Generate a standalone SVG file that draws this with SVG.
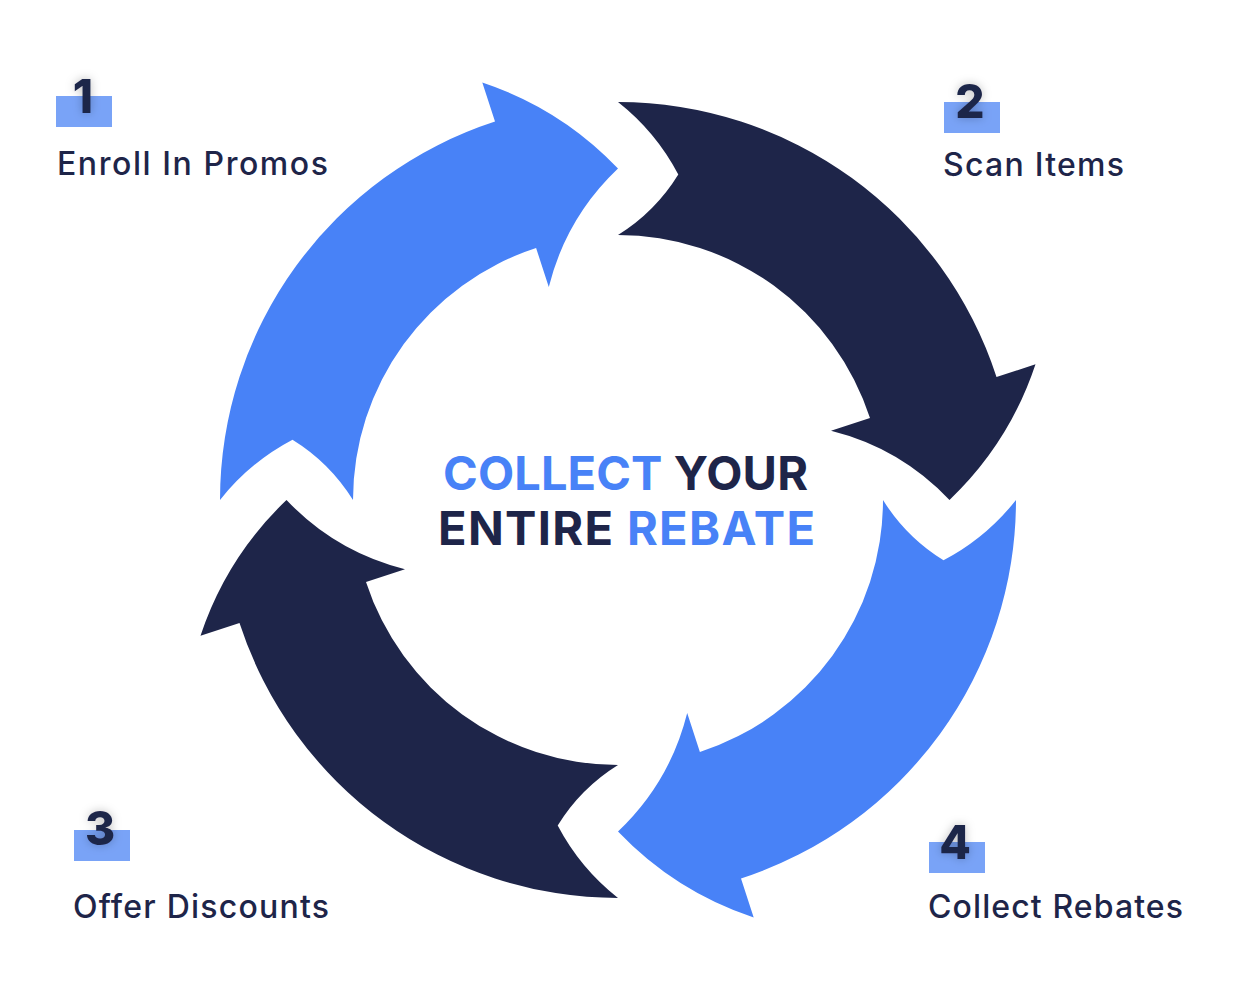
<svg xmlns="http://www.w3.org/2000/svg" width="1250" height="1000" viewBox="0 0 1250 1000">
  <defs>
    <style>
      .blue { fill: #4882F7; }
      .navy { fill: #1E2549; }
      .badge { fill: #79A3F7; }
      .num { font-family: "Inter", "DejaVu Sans", sans-serif; font-weight: 800; font-size: 46px; fill: #1E2549; text-anchor: middle; }
      .label { font-family: "Inter", "DejaVu Sans", sans-serif; font-weight: 500; font-size: 32px; fill: #1E2549; }
      .title { font-family: "Inter", "DejaVu Sans", sans-serif; font-weight: 700; font-size: 47px; }
      .tb { fill: #4882F7; }
      .tn { fill: #1E2549; }
    </style>
    <filter id="glow" x="-50%" y="-50%" width="200%" height="200%">
      <feDropShadow dx="0" dy="0" stdDeviation="5" flood-color="#000" flood-opacity="0.25"/>
    </filter>
    <path id="arrow" d="M 618 102 A 398 398 0 0 1 996.5 377 L 1035.5 364.3 Q 1009.4 442.9 949.5 500 Q 900.3 448.1 831 430.8 L 870 418.1 A 265 265 0 0 0 618 235 Q 655.3 211.8 678.3 174.5 Q 655.9 131.9 618 102 Z"/>
  </defs>
  <rect width="1250" height="1000" fill="#ffffff"/>

  <g id="connectors">
    <g id="arrow-scan"><use href="#arrow" class="navy"/></g>
    <g id="arrow-collect"><use href="#arrow" class="blue" transform="rotate(90 618 500)"/></g>
    <g id="arrow-offer"><use href="#arrow" class="navy" transform="rotate(180 618 500)"/></g>
    <g id="arrow-enroll"><use href="#arrow" class="blue" transform="rotate(270 618 500)"/></g>
  </g>

  <g id="center-title">
    <text class="title" x="443" y="490" textLength="365" lengthAdjust="spacing"><tspan class="tb">COLLECT</tspan> <tspan class="tn">YOUR</tspan></text>
    <text class="title" x="438" y="545" textLength="377" lengthAdjust="spacing"><tspan class="tn">ENTIRE</tspan> <tspan class="tb">REBATE</tspan></text>
  </g>

  <g id="step1">
    <rect class="badge" x="56" y="96" width="56" height="31"/>
    <text class="num" x="83" y="113" filter="url(#glow)">1</text>
    <text class="label" x="57" y="175" textLength="271" lengthAdjust="spacing">Enroll In Promos</text>
  </g>
  <g id="step2">
    <rect class="badge" x="944" y="102" width="56" height="31"/>
    <text class="num" x="970" y="118" filter="url(#glow)">2</text>
    <text class="label" x="943" y="176" textLength="181" lengthAdjust="spacing">Scan Items</text>
  </g>
  <g id="step3">
    <rect class="badge" x="74" y="830" width="56" height="31"/>
    <text class="num" x="100" y="845" filter="url(#glow)">3</text>
    <text class="label" x="73" y="918" textLength="256" lengthAdjust="spacing">Offer Discounts</text>
  </g>
  <g id="step4">
    <rect class="badge" x="929" y="842" width="56" height="31"/>
    <text class="num" x="955" y="859" filter="url(#glow)">4</text>
    <text class="label" x="928" y="918" textLength="255" lengthAdjust="spacing">Collect Rebates</text>
  </g>
</svg>
